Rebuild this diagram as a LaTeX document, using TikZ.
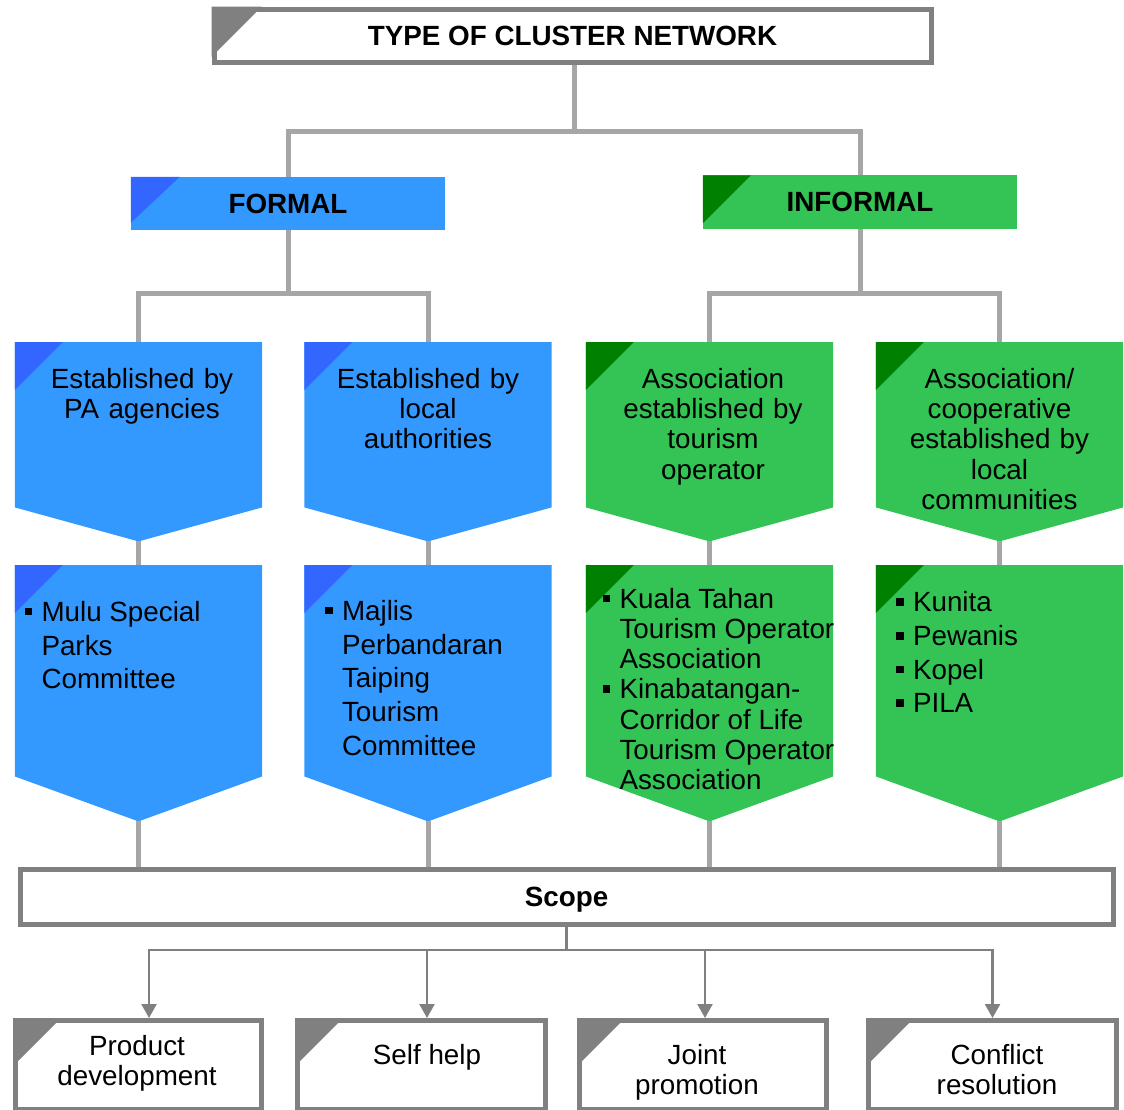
\documentclass[tikz,border=0pt]{standalone}
\usepackage{fontspec}
\setmainfont{Liberation Sans}
\usetikzlibrary{arrows.meta,positioning}

\definecolor{fblue}{HTML}{3399FF}
\definecolor{fbluedark}{HTML}{3366FF}
\definecolor{igreen}{RGB}{51,196,85}
\definecolor{igreendark}{HTML}{008000}
\definecolor{framegray}{HTML}{808080}
\definecolor{linkgray}{HTML}{A6A6A6}

\newcommand{\sqbul}{\makebox[17pt][l]{\rule[6pt]{7.5pt}{7.5pt}}}
\newcommand{\sqind}{\hspace*{17pt}}

\begin{document}
\begin{tikzpicture}[
  x=1pt, y=-1pt,
  every node/.style={inner sep=0pt, font=\fontsize{27.8}{30.3}\selectfont},
  titlebox/.style={rectangle, draw=framegray, line width=5pt, fill=white, text depth=0pt, font=\fontsize{27.8}{30.3}\selectfont\bfseries},
  catbox/.style={rectangle, minimum width=314pt, minimum height=53pt, font=\fontsize{27.8}{30.3}\selectfont\bfseries},
  chev/.style={rectangle, minimum width=247pt, anchor=north},
  headtxt/.style={text width=240pt, align=center},
  itemtxt/.style={align=left, font=\fontsize{27.8}{33.7}\selectfont},
  optbox/.style={rectangle, draw=framegray, line width=5pt, fill=white, minimum height=89pt, anchor=north},
  opttxt/.style={align=center},
  link/.style={draw=linkgray, line width=5pt},
  arr/.style={draw=framegray, line width=2.5pt}
]
\useasboundingbox (0,0) rectangle (1124,1110);

% top of the tree
\node[titlebox, minimum width=717pt, minimum height=53.5pt] (type) at (572.5,36) {TYPE OF CLUSTER NETWORK};
\fill[framegray] (type.north west) -- ++(50,0) -- ++(-50,50) -- cycle;

\node[catbox, fill=fblue] (formal) at (288,203.5) {FORMAL};
\fill[fbluedark] (formal.north west) -- ++(49,0) -- ++(-49,46) -- cycle;
\node[catbox, fill=igreen] (informal) at (860,202) {INFORMAL};
\fill[igreendark] (informal.north west) -- ++(48,0) -- ++(-48,48) -- cycle;

% first row of chevrons
\node[chev, minimum height=165pt] (pa) at (138.5,342) {};
\fill[fblue] (pa.north west) -- (pa.north east) -- (pa.south east) -- ([yshift=-34pt]pa.south) -- (pa.south west) -- cycle;
\fill[fbluedark] (pa.north west) -- ++(48,0) -- ++(-48,48) -- cycle;
\node[headtxt, below=26pt of pa.north, xshift=3.5pt] (pa-t) {Established by\\PA agencies};

\node[chev, minimum height=165pt] (la) at (428,342) {};
\fill[fblue] (la.north west) -- (la.north east) -- (la.south east) -- ([yshift=-34pt]la.south) -- (la.south west) -- cycle;
\fill[fbluedark] (la.north west) -- ++(48,0) -- ++(-48,48) -- cycle;
\node[headtxt, below=26pt of la.north] (la-t) {Established by\\local\\authorities};

\node[chev, minimum height=165pt] (tour) at (709.5,342) {};
\fill[igreen] (tour.north west) -- (tour.north east) -- (tour.south east) -- ([yshift=-34pt]tour.south) -- (tour.south west) -- cycle;
\fill[igreendark] (tour.north west) -- ++(48,0) -- ++(-48,48) -- cycle;
\node[headtxt, below=26pt of tour.north, xshift=3.5pt] (tour-t) {Association\\established by\\tourism\\operator};

\node[chev, minimum height=165pt] (comm) at (999.5,342) {};
\fill[igreen] (comm.north west) -- (comm.north east) -- (comm.south east) -- ([yshift=-34pt]comm.south) -- (comm.south west) -- cycle;
\fill[igreendark] (comm.north west) -- ++(48,0) -- ++(-48,48) -- cycle;
\node[headtxt, below=26pt of comm.north] (comm-t) {Association/\\cooperative\\established by\\local\\communities};

% second row of chevrons
\node[chev, minimum height=211pt] (mulu) at (138.5,565) {};
\fill[fblue] (mulu.north west) -- (mulu.north east) -- (mulu.south east) -- ([yshift=-45pt]mulu.south) -- (mulu.south west) -- cycle;
\fill[fbluedark] (mulu.north west) -- ++(48,0) -- ++(-48,48) -- cycle;
\node[itemtxt, below right=36pt and 9.5pt of mulu.north west] (mulu-t) {\sqbul Mulu Special\\\sqind Parks\\\sqind Committee};

\node[chev, minimum height=211pt] (majlis) at (428,565) {};
\fill[fblue] (majlis.north west) -- (majlis.north east) -- (majlis.south east) -- ([yshift=-45pt]majlis.south) -- (majlis.south west) -- cycle;
\fill[fbluedark] (majlis.north west) -- ++(48,0) -- ++(-48,48) -- cycle;
\node[itemtxt, below right=35pt and 20.5pt of majlis.north west] (majlis-t) {\sqbul Majlis\\\sqind Perbandaran\\\sqind Taiping\\\sqind Tourism\\\sqind Committee};

\node[chev, minimum height=211pt] (kuala) at (709.5,565) {};
\fill[igreen] (kuala.north west) -- (kuala.north east) -- (kuala.south east) -- ([yshift=-45pt]kuala.south) -- (kuala.south west) -- cycle;
\fill[igreendark] (kuala.north west) -- ++(48,0) -- ++(-48,48) -- cycle;
\node[itemtxt, font=\fontsize{27.8}{30.2}\selectfont, below right=23pt and 16.5pt of kuala.north west] (kuala-t) {\sqbul Kuala Tahan\\\sqind Tourism Operator\\\sqind Association\\\sqbul Kinabatangan-\\\sqind Corridor of Life\\\sqind Tourism Operator\\\sqind Association};

\node[chev, minimum height=211pt] (kunita) at (999.5,565) {};
\fill[igreen] (kunita.north west) -- (kunita.north east) -- (kunita.south east) -- ([yshift=-45pt]kunita.south) -- (kunita.south west) -- cycle;
\fill[igreendark] (kunita.north west) -- ++(48,0) -- ++(-48,48) -- cycle;
\node[itemtxt, below right=26.5pt and 20pt of kunita.north west] (kunita-t) {\sqbul Kunita\\\sqbul Pewanis\\\sqbul Kopel\\\sqbul PILA};

% scope and its options
\node[titlebox, minimum width=1093pt, minimum height=55pt] (scope) at (566.5,896.5) {Scope};

\node[optbox, minimum width=246pt] (prod) at (138.5,1018) {};
\fill[framegray] (prod.north west) -- ++(48,0) -- ++(-48,48) -- cycle;
\node[opttxt, below=17pt of prod.north, xshift=-1.5pt] (prod-t) {Product\\development};

\node[optbox, minimum width=248pt] (self) at (421.5,1018) {};
\fill[framegray] (self.north west) -- ++(48,0) -- ++(-48,48) -- cycle;
\node[opttxt, below=26pt of self.north, xshift=5.5pt] (self-t) {Self help};

\node[optbox, minimum width=247pt] (joint) at (703,1018) {};
\fill[framegray] (joint.north west) -- ++(48,0) -- ++(-48,48) -- cycle;
\node[opttxt, below=26pt of joint.north, xshift=-6pt] (joint-t) {Joint\\promotion};

\node[optbox, minimum width=248pt] (confl) at (992.5,1018) {};
\fill[framegray] (confl.north west) -- ++(48,0) -- ++(-48,48) -- cycle;
\node[opttxt, below=26pt of confl.north, xshift=4.5pt] (confl-t) {Conflict\\resolution};

% grey connectors
\coordinate (split1) at (574,132);
\draw[link] (type.south -| split1) -- (split1);
\draw[link] (formal.north) |- (split1) -| (informal.north);

\coordinate (split2) at (288,293);
\draw[link] (formal.south) -- (split2);
\draw[link] (pa.north) |- (split2) -| (la.north);
\coordinate (split3) at (860,293);
\draw[link] (informal.south) -- (split3);
\draw[link] (tour.north) |- (split3) -| (comm.north);

\draw[link] ([yshift=-34pt]pa.south) -- (mulu.north);
\draw[link] ([yshift=-34pt]la.south) -- (majlis.north);
\draw[link] ([yshift=-34pt]tour.south) -- (kuala.north);
\draw[link] ([yshift=-34pt]comm.south) -- (kunita.north);

\draw[link] ([yshift=-45pt]mulu.south) -- (scope.north -| mulu.south);
\draw[link] ([yshift=-45pt]majlis.south) -- (scope.north -| majlis.south);
\draw[link] ([yshift=-45pt]kuala.south) -- (scope.north -| kuala.south);
\draw[link] ([yshift=-45pt]kunita.south) -- (scope.north -| kunita.south);

% arrows to the options
\coordinate (bus) at (566.5,950);
\draw[arr] (scope.south) -- (bus);
\draw[arr, -{Triangle[width=15pt,length=14pt]}] (bus) -| ([xshift=10.5pt]prod.north);
\draw[arr, -{Triangle[width=15pt,length=14pt]}] (bus) -| ([xshift=5.5pt]self.north);
\draw[arr, -{Triangle[width=15pt,length=14pt]}] (bus) -| ([xshift=2pt]joint.north);
\draw[arr, -{Triangle[width=15pt,length=14pt]}] (bus) -| (confl.north);

\end{tikzpicture}
\end{document}
